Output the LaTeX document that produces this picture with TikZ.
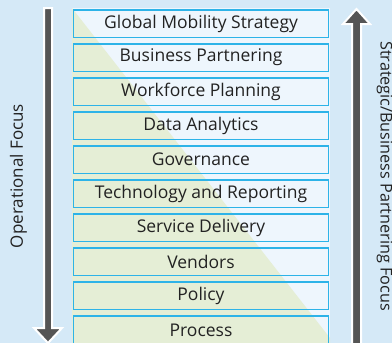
\documentclass[tikz,border=0pt]{standalone}
\usepackage{fontspec}
\setmainfont{Open Sans}
\definecolor{bgblue}{HTML}{D5E9F7}
\definecolor{pgreen}{HTML}{E5EED6}
\definecolor{pwhite}{HTML}{EEF6FD}
\definecolor{bcyan}{HTML}{2DB3E8}
\definecolor{agray}{HTML}{555555}
\definecolor{tgray}{HTML}{222222}
\tikzset{
  layerbox/.style={draw=bcyan, line width=1.5pt, minimum width=255pt, minimum height=27.5pt, inner sep=0pt, anchor=north, font=\fontsize{17.5}{19}\selectfont, text=tgray},
  bigarrow/.style={fill=agray, draw=white, line width=2pt, line join=miter},
  sidelabel/.style={font=\fontsize{17}{19}\selectfont, text=tgray}
}
\begin{document}
\begin{tikzpicture}[x=1pt,y=-1pt]
\useasboundingbox (0,0) rectangle (392,343);
\fill[bgblue] (0,0) rectangle (392,343);
% panel with diagonal split
\fill[pwhite] (72,8) rectangle (330,350);
\fill[pgreen] (72,8) -- (330,338) -- (330,350) -- (72,350) -- cycle;
% layers
\foreach \t [count=\i from 0] in {Global Mobility Strategy, Business Partnering, Workforce Planning, Data Analytics, Governance, Technology and Reporting, Service Delivery, Vendors, Policy, Process}{
  \node[layerbox] (L\i) at (201, 9+34.05*\i) {\t};
}
% down arrow (operational)
\fill[bigarrow] (44,8) -- (52,8) -- (52,328) -- (62,328) -- (48,343) -- (34,328) -- (44,328) -- cycle;
% up arrow (strategic)
\fill[bigarrow] (352,350) -- (361,350) -- (361,24) -- (370,24) -- (356.5,9) -- (343,24) -- (352,24) -- cycle;
\node[sidelabel, rotate=90] (opf) at (18.5,176) {Operational Focus};
\node[sidelabel, rotate=-90, font=\fontsize{16.2}{18}\selectfont] (sbf) at (384.5,176) {Strategic/Business Partnering Focus};
\end{tikzpicture}
\end{document}
